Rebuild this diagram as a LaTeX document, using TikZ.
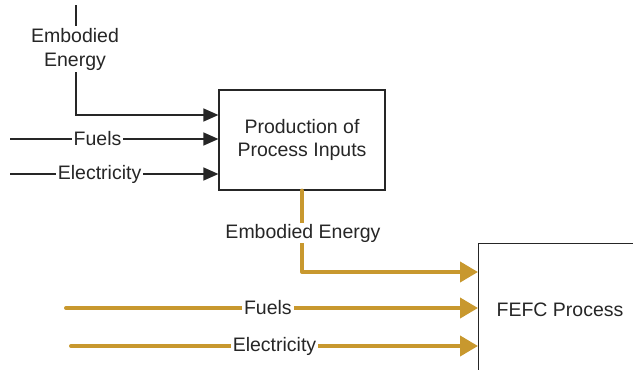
\documentclass[tikz,border=0pt]{standalone}
\usepackage{fontspec}
\setmainfont{Liberation Sans}
\usetikzlibrary{arrows.meta}
\definecolor{flowgold}{HTML}{C8982E}
\definecolor{inkgray}{HTML}{262626}

\begin{document}
\begin{tikzpicture}[x=1pt, y=-1pt,
    procbox/.style={draw=inkgray, line width=1.2pt, minimum width=166pt,
      minimum height=100pt, align=center, text=inkgray,
      font=\fontsize{19.5}{22.5}\selectfont},
    flowlabel/.style={fill=white, inner sep=2pt, text=inkgray, align=center,
      font=\fontsize{19.5}{24}\selectfont},
    blackflow/.style={draw=inkgray, line width=1.3pt,
      -{Triangle[length=15pt, width=13pt]}},
    goldflow/.style={draw=flowgold, line width=4pt, line cap=round,
      line join=round, -{Triangle[length=18pt, width=20pt]}}]
  \useasboundingbox (0,0) rectangle (633,370);
  % The two process boxes
  \node[procbox] (prod) at (302,140) {Production of\\Process Inputs};
  \node[procbox, anchor=north west, minimum width=200pt, minimum height=160pt]
    (fefc) at (478,243) {};
  \node[flowlabel, fill=none] (fefcText) at (560,310) {FEFC Process};
  % Inputs to the production of process inputs
  \coordinate (embA) at (76,5);
  \coordinate (fuelsA) at (10,139);
  \coordinate (elecA) at (10,174);
  \draw[blackflow] (embA) |- (prod.west |- 0,115);
  \node[flowlabel] (embLabelA) at (75,49) {Embodied\\Energy};
  \draw[blackflow] (fuelsA) -- node[flowlabel, pos=0.42] (fuelsLabelA) {Fuels}
    (fuelsA -| prod.west);
  \draw[blackflow] (elecA) -- node[flowlabel, pos=0.43] (elecLabelA) {Electricity}
    (elecA -| prod.west);
  % Inputs to the FEFC process
  \coordinate (embB) at (302,272);
  \coordinate (fuelsB) at (66,308);
  \coordinate (elecB) at (71,346);
  \draw[goldflow] (prod.south) -- (embB) -- (embB -| fefc.west);
  \node[flowlabel, inner sep=1pt] (embLabelB) at (303,233) {Embodied Energy};
  \draw[goldflow] (fuelsB) -- node[flowlabel, pos=0.49] (fuelsLabelB) {Fuels}
    (fuelsB -| fefc.west);
  \draw[goldflow] (elecB) -- node[flowlabel, pos=0.5] (elecLabelB) {Electricity}
    (elecB -| fefc.west);
\end{tikzpicture}
\end{document}
